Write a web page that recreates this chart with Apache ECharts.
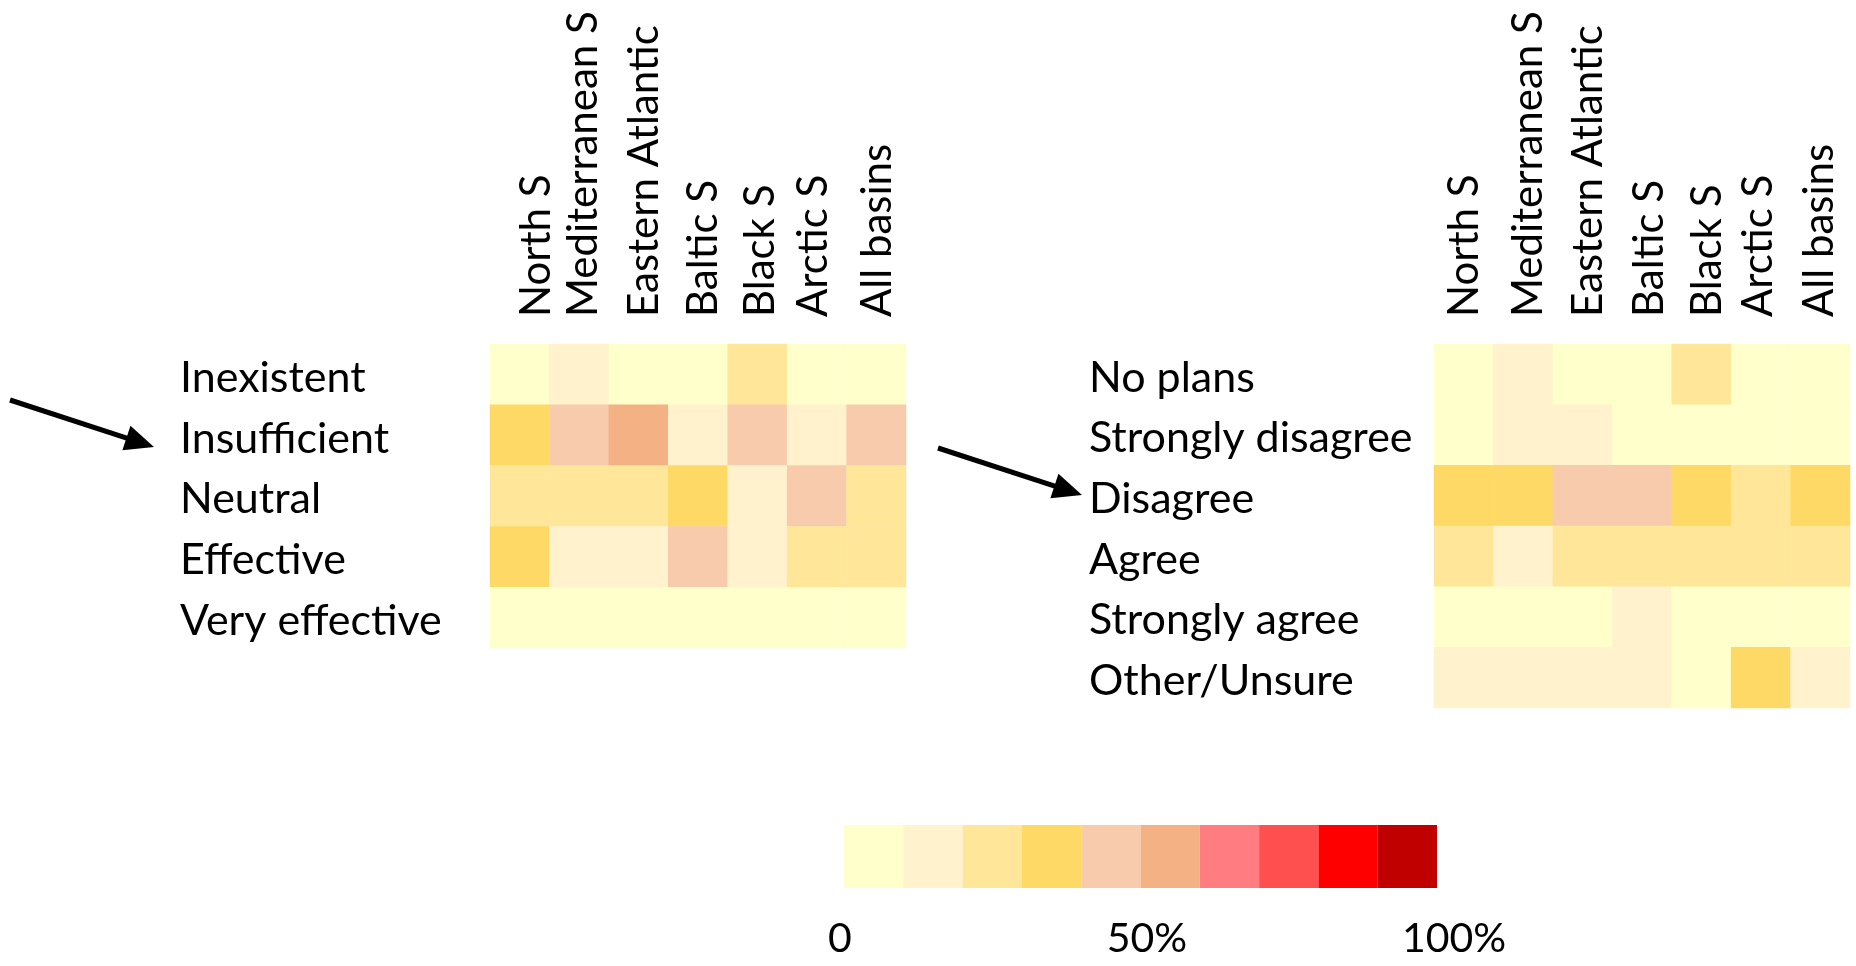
<!DOCTYPE html>
<html>
<head>
<meta charset="utf-8">
<script src="https://cdn.jsdelivr.net/npm/echarts@6/dist/echarts.min.js"></script>
<style>
  html, body { margin: 0; padding: 0; background: #ffffff; }
  #chart { width: 1856px; height: 966px; }
</style>
</head>
<body>
<div id="chart"></div>
<script>
// ---- data: share of respondents (%) per basin ----
const basins = ['North S', 'Mediterranean S', 'Eastern Atlantic', 'Baltic S', 'Black S', 'Arctic S', 'All basins'];

// effectiveness of current measures
const effectivenessLevels = ['Inexistent', 'Insufficient', 'Neutral', 'Effective', 'Very effective'];
const effInexistent    = [4, 12, 6, 4, 22, 6, 8];
const effInsufficient  = [36, 46, 52, 14, 44, 18, 42];
const effNeutral       = [24, 24, 24, 34, 16, 44, 24];
const effEffective     = [32, 14, 14, 44, 14, 26, 22];
const effVeryEffective = [4, 4, 4, 4, 4, 6, 4];

// agreement with the statement
const agreementLevels = ['No plans', 'Strongly disagree', 'Disagree', 'Agree', 'Strongly agree', 'Other/Unsure'];
const agrNoPlans          = [6, 12, 4, 4, 24, 4, 6];
const agrStronglyDisagree = [8, 14, 12, 6, 6, 6, 8];
const agrDisagree         = [38, 38, 42, 42, 36, 26, 38];
const agrAgree            = [28, 18, 24, 24, 26, 24, 28];
const agrStronglyAgree    = [6, 4, 4, 12, 4, 4, 6];
const agrOther            = [14, 14, 14, 12, 4, 36, 14];

// colour scale: 10 % bins from 0 to 100 %
const binEdges = [0, 10, 20, 30, 40, 50, 60, 70, 80, 90, 100];
const binColors = ['#FFFFCC', '#FFF2CC', '#FFE699', '#FFD966', '#F8CBAD',
                   '#F4B183', '#FF7C80', '#FF5050', '#FF0000', '#C00000'];
const scaleTicks = [0, 50, 100];
const scaleTickLabels = ['0', '50%', '100%'];

// ---- helpers ----
function toCells(rows) {
  const cells = [];
  rows.forEach((row, y) => row.forEach((v, x) => cells.push([x, y, v])));
  return cells;
}

const FONT = 'Lato';
const FS = 43;
const FS_HEAD = 42;

// sideways nudges of the rotated column headers (px, positive = to the right)
const leftHeaderShift  = [17, 4, 6, 5, 3, -3, 1];
const rightHeaderShift = [1, 5, 6, 7, 6, -2, -1];

// one rich style per header; the padding moves the rotated text across the column
function headerRich(shifts) {
  const rich = {};
  shifts.forEach((s, i) => {
    rich['h' + i] = {
      fontFamily: FONT, fontSize: FS_HEAD, color: '#000000',
      padding: s >= 0 ? [2 * s, 0, 0, 0] : [0, 0, -2 * s, 0]
    };
  });
  return rich;
}

function columnAxis(gridIndex, shifts) {
  return {
    type: 'category', gridIndex: gridIndex, position: 'top',
    data: basins,
    axisLine: { show: false }, axisTick: { show: false }, splitLine: { show: false },
    axisLabel: {
      rotate: -90, margin: 27, interval: 0,
      fontFamily: FONT, fontSize: FS_HEAD, color: '#000000',
      formatter: (v, i) => '{h' + i + '|' + v + '}',
      rich: headerRich(shifts)
    }
  };
}

function rowAxis(gridIndex, levels, margin) {
  return {
    type: 'category', gridIndex: gridIndex, inverse: true,
    data: levels,
    axisLine: { show: false }, axisTick: { show: false }, splitLine: { show: false },
    axisLabel: {
      align: 'left', margin: margin, interval: 0,
      fontFamily: FONT, fontSize: FS, color: '#000000',
      formatter: (v) => '{r|' + v + '}',
      rich: { r: { fontFamily: FONT, fontSize: FS, color: '#000000', padding: [7, 0, 0, 0] } }
    }
  };
}

function arrowGraphic(x1, y1, x2, y2) {
  const dx = x2 - x1, dy = y2 - y1;
  const len = Math.sqrt(dx * dx + dy * dy);
  const ux = dx / len, uy = dy / len;
  const headLen = 29, headHalf = 13;
  const bx = x2 - ux * headLen, by = y2 - uy * headLen;
  return [
    {
      type: 'line', silent: true,
      shape: { x1: x1, y1: y1, x2: bx + ux * 2, y2: by + uy * 2 },
      style: { stroke: '#000000', lineWidth: 5 }
    },
    {
      type: 'polygon', silent: true,
      shape: { points: [[x2, y2], [bx - uy * headHalf, by + ux * headHalf], [bx + uy * headHalf, by - ux * headHalf]] },
      style: { fill: '#000000' }
    }
  ];
}

const chart = echarts.init(document.getElementById('chart'), null, { renderer: 'canvas' });

const option = {
  backgroundColor: '#ffffff',
  animation: false,
  grid: [
    { left: 490, top: 344, width: 416, height: 304 },
    { left: 1434, top: 344, width: 416, height: 364 },
    { left: 840, top: 825, width: 614, height: 63 }
  ],
  xAxis: [
    columnAxis(0, leftHeaderShift),
    columnAxis(1, rightHeaderShift),
    {
      type: 'value', gridIndex: 2, min: scaleTicks[0], max: scaleTicks[scaleTicks.length - 1],
      interval: scaleTicks[1] - scaleTicks[0],
      axisLine: { show: false }, axisTick: { show: false }, splitLine: { show: false },
      axisLabel: {
        margin: 30, fontFamily: FONT, fontSize: 41, color: '#000000',
        formatter: (v) => scaleTickLabels[scaleTicks.indexOf(v)]
      }
    }
  ],
  yAxis: [
    rowAxis(0, effectivenessLevels, 310),
    rowAxis(1, agreementLevels, 345),
    { type: 'value', gridIndex: 2, show: false }
  ],
  visualMap: {
    type: 'piecewise',
    seriesIndex: [0, 1],
    dimension: 2,
    orient: 'horizontal',
    left: 844, top: 825,
    padding: 0,
    itemWidth: 59.3, itemHeight: 63, itemGap: 0,
    itemSymbol: 'rect',
    showLabel: false,
    selectedMode: false,
    pieces: binColors.map((c, i) => ({ gte: binEdges[i], lt: binEdges[i + 1], color: c }))
  },
  series: [
    {
      type: 'heatmap', xAxisIndex: 0, yAxisIndex: 0,
      data: toCells([effInexistent, effInsufficient, effNeutral, effEffective, effVeryEffective]),
      itemStyle: { borderWidth: 0 },
      emphasis: { disabled: true }
    },
    {
      type: 'heatmap', xAxisIndex: 1, yAxisIndex: 1,
      data: toCells([agrNoPlans, agrStronglyDisagree, agrDisagree, agrAgree, agrStronglyAgree, agrOther]),
      itemStyle: { borderWidth: 0 },
      emphasis: { disabled: true }
    }
  ],
  graphic: [
    ...arrowGraphic(10, 400, 154, 447),
    ...arrowGraphic(938, 448, 1082, 495)
  ]
};

chart.setOption(option);
</script>
</body>
</html>
